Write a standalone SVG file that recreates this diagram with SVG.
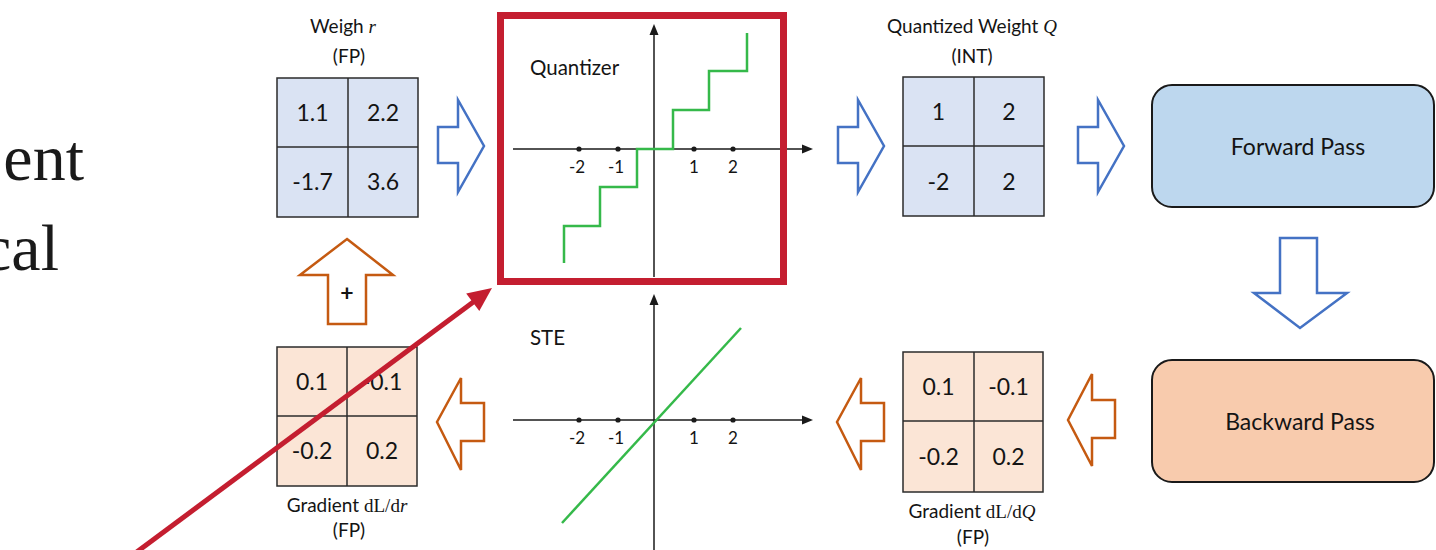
<svg xmlns="http://www.w3.org/2000/svg" width="1436" height="550" viewBox="0 0 1436 550">
<style>
.t{font-family:Lato,"Open Sans","Liberation Sans",sans-serif;fill:#141414}
.m{font-family:"Liberation Serif",serif}
.i{font-style:italic}
.hd{font-size:19px;text-anchor:middle}
.num{font-size:23px;text-anchor:middle}
.ax{font-size:17px;text-anchor:middle}
.big{font-family:"Liberation Serif","DejaVu Serif",serif;font-size:66px;fill:#1a1a1a;text-anchor:end}
.mb{fill:#DAE3F3;stroke:#2b2b2b;stroke-width:1.5}
.mo{fill:#FBE5D6;stroke:#2b2b2b;stroke-width:1.5}
.ml{stroke:#2b2b2b;stroke-width:1.5}
.ab{fill:#ffffff;stroke:#4472C4;stroke-width:2.5;stroke-linejoin:miter}
.ao{fill:#ffffff;stroke:#C55A11;stroke-width:2.5;stroke-linejoin:miter}
.axis{stroke:#1a1a1a;stroke-width:1.5;fill:none}
.g{stroke:#35B94A;stroke-width:2.5;fill:none}
.dot{fill:#1a1a1a}
.tip{fill:#1a1a1a}
</style>

<g id="side-text">
<text class="big" x="84" y="180">ent</text>
<text class="big" x="59" y="270">cal</text>
</g>

<g id="weight-r">
<text class="t hd" x="343" y="33">Weigh <tspan class="m i">r</tspan></text>
<text class="t hd" x="349" y="63">(FP)</text>
<rect class="mb" x="277" y="78" width="141" height="139"/>
<line class="ml" x1="348" y1="78" x2="348" y2="217"/>
<line class="ml" x1="277" y1="147" x2="418" y2="147"/>
<text class="t num" x="312.5" y="121">1.1</text>
<text class="t num" x="383" y="121">2.2</text>
<text class="t num" x="312.5" y="190">-1.7</text>
<text class="t num" x="383" y="190">3.6</text>
</g>

<g id="quantizer">
<line class="axis" x1="513" y1="149" x2="804" y2="149"/>
<polygon class="tip" points="813,149 802,144.5 802,153.5"/>
<line class="axis" x1="654" y1="277" x2="654" y2="34"/>
<polygon class="tip" points="654,24 649.5,35 658.5,35"/>
<circle class="dot" cx="579" cy="149" r="2.6"/>
<circle class="dot" cx="618" cy="149" r="2.6"/>
<circle class="dot" cx="694" cy="149" r="2.6"/>
<circle class="dot" cx="733" cy="149" r="2.6"/>
<text class="t ax" x="577" y="173">-2</text>
<text class="t ax" x="616" y="173">-1</text>
<text class="t ax" x="694" y="173">1</text>
<text class="t ax" x="733" y="173">2</text>
<polyline class="g" points="564,263 564,226 600,226 600,187 637,187 637,149 673,149 673,110 709,110 709,71 747,71 747,33"/>
<text class="t" x="530" y="75" font-size="20.5">Quantizer</text>
<rect x="500.5" y="15.5" width="283" height="266" fill="none" stroke="#C41E30" stroke-width="7"/>
</g>

<g id="quantized-q">
<text class="t hd" x="972" y="33">Quantized Weight <tspan class="m i">Q</tspan></text>
<text class="t hd" x="972" y="63">(INT)</text>
<rect class="mb" x="903" y="77" width="141" height="139"/>
<line class="ml" x1="974" y1="77" x2="974" y2="216"/>
<line class="ml" x1="903" y1="146" x2="1044" y2="146"/>
<text class="t num" x="938.5" y="120">1</text>
<text class="t num" x="1009" y="120">2</text>
<text class="t num" x="938.5" y="190">-2</text>
<text class="t num" x="1009" y="190">2</text>
</g>

<g id="forward-pass">
<rect x="1152" y="85" width="282" height="122" rx="20" fill="#BDD7EE" stroke="#1a1a1a" stroke-width="2"/>
<text class="t" x="1298" y="155" font-size="23" text-anchor="middle">Forward Pass</text>
</g>

<g id="backward-pass">
<rect x="1152" y="360" width="282" height="122" rx="20" fill="#F8CBAD" stroke="#1a1a1a" stroke-width="2"/>
<text class="t" x="1300" y="430" font-size="23" text-anchor="middle">Backward Pass</text>
</g>

<g id="ste">
<line class="axis" x1="513" y1="420" x2="804" y2="420"/>
<polygon class="tip" points="813,420 802,415.5 802,424.5"/>
<line class="axis" x1="654" y1="552" x2="654" y2="304"/>
<polygon class="tip" points="654,294 649.5,305 658.5,305"/>
<circle class="dot" cx="579" cy="420" r="2.6"/>
<circle class="dot" cx="618" cy="420" r="2.6"/>
<circle class="dot" cx="694" cy="420" r="2.6"/>
<circle class="dot" cx="733" cy="420" r="2.6"/>
<text class="t ax" x="577" y="444">-2</text>
<text class="t ax" x="616" y="444">-1</text>
<text class="t ax" x="694" y="444">1</text>
<text class="t ax" x="733" y="444">2</text>
<line class="g" x1="562" y1="523" x2="741" y2="328"/>
<text class="t" x="530" y="345" font-size="20.5">STE</text>
</g>

<g id="grad-q">
<rect class="mo" x="903" y="352" width="140" height="140"/>
<line class="ml" x1="974" y1="352" x2="974" y2="492"/>
<line class="ml" x1="903" y1="421" x2="1043" y2="421"/>
<text class="t num" x="938.5" y="395">0.1</text>
<text class="t num" x="1008.5" y="395">-0.1</text>
<text class="t num" x="938.5" y="465">-0.2</text>
<text class="t num" x="1008.5" y="465">0.2</text>
<text class="t hd" x="972" y="518">Gradient <tspan class="m">dL/d</tspan><tspan class="m i">Q</tspan></text>
<text class="t hd" x="973" y="544">(FP)</text>
</g>

<g id="grad-r">
<rect class="mo" x="277" y="347" width="140" height="139"/>
<line class="ml" x1="347" y1="347" x2="347" y2="486"/>
<line class="ml" x1="277" y1="416" x2="417" y2="416"/>
<text class="t num" x="312" y="390">0.1</text>
<text class="t num" x="382" y="390">-0.1</text>
<text class="t num" x="312" y="459">-0.2</text>
<text class="t num" x="382" y="459">0.2</text>
<text class="t hd" x="347" y="512">Gradient <tspan class="m">dL/d</tspan><tspan class="m i">r</tspan></text>
<text class="t hd" x="349" y="537">(FP)</text>
</g>

<g id="connectors">
<polygon class="ab" points="438,127 458,127 458,100 484,146 458,192 458,163 438,163"/>
<polygon class="ab" points="838,127 858,127 858,100 884,146 858,192 858,163 838,163"/>
<polygon class="ab" points="1078,127 1098,127 1098,100 1124,146 1098,192 1098,163 1078,163"/>
<polygon class="ab" points="1280,238 1317,238 1317,293 1347,293 1300,328 1254,293 1280,293"/>
<polygon class="ao" points="1115,400 1092,400 1092,374 1068,420 1092,466 1092,438 1115,438"/>
<polygon class="ao" points="884,403 861,403 861,378 837,422 861,470 861,441 884,441"/>
<polygon class="ao" points="484,403 461,403 461,378 437,422 461,470 461,441 484,441"/>
<polygon class="ao" points="347,239 393,275 366,275 366,324 328,324 328,275 300,275"/>
<text class="t" x="347" y="301" font-size="23" font-weight="bold" text-anchor="middle">+</text>
<line x1="130" y1="557" x2="474" y2="301.5" stroke="#C41E30" stroke-width="5"/>
<polygon points="492,288 479.3,311.1 466.2,293.5" fill="#C41E30"/>
</g>
</svg>
